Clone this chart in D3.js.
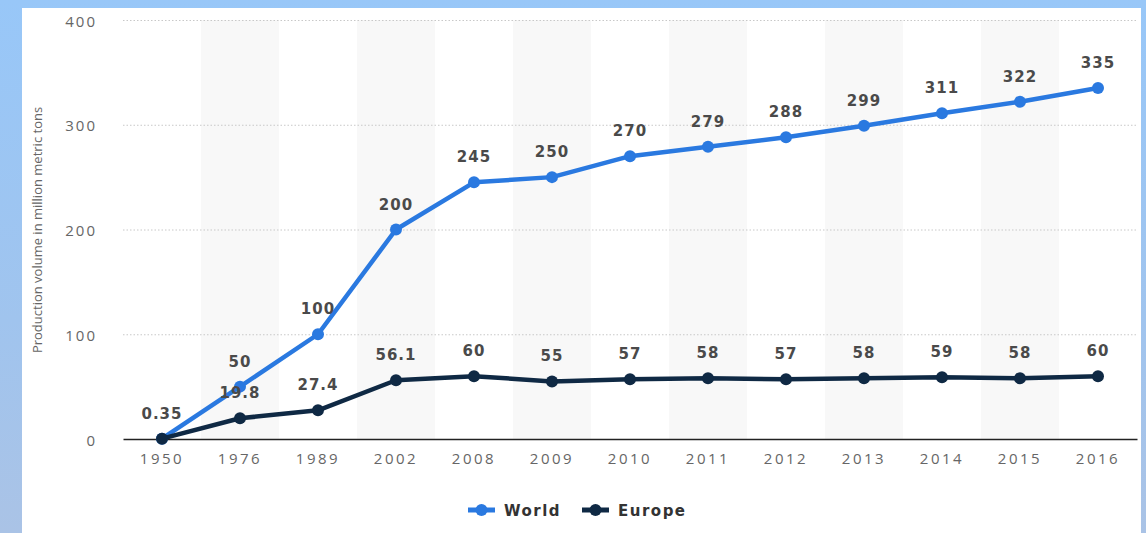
<!DOCTYPE html>
<html>
<head>
<meta charset="utf-8">
<script src="https://cdn.jsdelivr.net/npm/d3@7"></script>
<style>
  html, body { margin: 0; padding: 0; }
  body { width: 1146px; height: 533px; overflow: hidden;
         background: linear-gradient(to bottom, #98c7f8 0%, #a0c4ee 60%, #aac3e6 100%); }
  svg { display: block; }
</style>
</head>
<body>
<svg id="chart" width="1146" height="533"></svg>
<script>
const years = ["1950", "1976", "1989", "2002", "2008", "2009", "2010", "2011", "2012", "2013", "2014", "2015", "2016"];
const worldValues = [0.35, 50, 100, 200, 245, 250, 270, 279, 288, 299, 311, 322, 335];
const europeValues = [0.35, 19.8, 27.4, 56.1, 60, 55, 57, 58, 57, 58, 59, 58, 60];
const worldLabels = ["0.35", "50", "100", "200", "245", "250", "270", "279", "288", "299", "311", "322", "335"];
const europeLabels = ["", "19.8", "27.4", "56.1", "60", "55", "57", "58", "57", "58", "59", "58", "60"];
const yTicks = [0, 100, 200, 300, 400];
const seriesNames = ["World", "Europe"];
const seriesColors = ["#2a79e0", "#0f2944"];

const svg = d3.select("#chart");
const boldFont = "DejaVu Sans, sans-serif";
const lightFont = "Open Sans, sans-serif";

// white card
svg.append("rect").attr("x", 22).attr("y", 8).attr("width", 1119).attr("height", 525).attr("fill", "#ffffff");

const x = d3.scaleBand().domain(years).range([123, 1137]);
const y = d3.scaleLinear().domain([0, 400]).range([439, 20]);

// alternating column shading
const shaded = years.filter((d, i) => i % 2 === 1);
svg.append("g").selectAll("rect").data(shaded).join("rect")
  .attr("x", d => x(d)).attr("y", y(400))
  .attr("width", x.bandwidth()).attr("height", y(0) - y(400))
  .attr("fill", "#f8f8f8");

// horizontal grid
svg.append("g").selectAll("line").data(yTicks.filter(t => t > 0)).join("line")
  .attr("x1", 123).attr("x2", 1137)
  .attr("y1", d => y(d) + 0.5).attr("y2", d => y(d) + 0.5)
  .attr("stroke", "#c8c8c8").attr("stroke-width", 1).attr("stroke-dasharray", "1.5,2");

// y axis
const yAxis = svg.append("g").attr("transform", "translate(97,0)")
  .call(d3.axisLeft(y).tickValues(yTicks).tickSize(0).tickPadding(0));
yAxis.select(".domain").remove();
yAxis.selectAll("text")
  .attr("font-family", lightFont).attr("font-size", 15)
  .attr("fill", "#666").attr("letter-spacing", "2px").attr("dy", "0.4em");

// y title
svg.append("text")
  .attr("transform", "translate(42,230) rotate(-90)")
  .attr("text-anchor", "middle")
  .attr("font-family", lightFont).attr("font-size", 13)
  .attr("fill", "#666")
  .text("Production volume in million metric tons");

// x axis
const xAxis = svg.append("g").attr("transform", `translate(0,${y(0)})`)
  .call(d3.axisBottom(x).tickSize(0).tickPadding(14));
xAxis.select(".domain").attr("stroke", "#222").attr("stroke-width", 1.3);
xAxis.selectAll("text")
  .attr("font-family", lightFont).attr("font-size", 15)
  .attr("fill", "#666").attr("letter-spacing", "2.5px");

const cx = d => x(d) + x.bandwidth() / 2;

function drawSeries(values, color) {
  const pts = years.map((d, i) => [cx(d), y(values[i])]);
  svg.append("path")
    .attr("d", d3.line()(pts))
    .attr("fill", "none").attr("stroke", color).attr("stroke-width", 4.5)
    .attr("stroke-linejoin", "round");
  svg.append("g").selectAll("circle").data(pts).join("circle")
    .attr("cx", d => d[0]).attr("cy", d => d[1]).attr("r", 6).attr("fill", color);
}
drawSeries(worldValues, seriesColors[0]);
drawSeries(europeValues, seriesColors[1]);

function drawLabels(values, labels) {
  svg.append("g").selectAll("text").data(years).join("text")
    .attr("x", d => cx(d))
    .attr("y", (d, i) => y(values[i]) - 20)
    .attr("text-anchor", "middle")
    .attr("font-family", boldFont).attr("font-size", 15)
    .attr("font-weight", "bold").attr("fill", "#4a4a4a").attr("letter-spacing", "1px")
    .text((d, i) => labels[i]);
}
drawLabels(europeValues, europeLabels);
drawLabels(worldValues, worldLabels);

// legend
const legendX = [468, 582];
seriesNames.forEach((name, i) => {
  const g = svg.append("g").attr("transform", `translate(${legendX[i]},510)`);
  g.append("line").attr("x1", 0).attr("x2", 27).attr("y1", 0).attr("y2", 0)
    .attr("stroke", seriesColors[i]).attr("stroke-width", 5);
  g.append("circle").attr("cx", 13.5).attr("cy", 0).attr("r", 6).attr("fill", seriesColors[i]);
  g.append("text").attr("x", 36).attr("y", 5.5)
    .attr("font-family", boldFont).attr("font-size", 15)
    .attr("font-weight", "bold").attr("fill", "#333").attr("letter-spacing", "1.5px")
    .text(name);
});
</script>
</body>
</html>
